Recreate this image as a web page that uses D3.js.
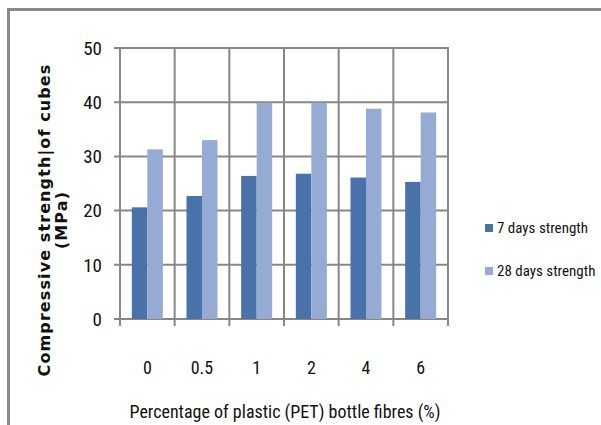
<!DOCTYPE html>
<html><head><meta charset="utf-8">
<script src="https://cdn.jsdelivr.net/npm/d3@7"></script>
<style>html,body{margin:0;padding:0;background:#fff;}svg{display:block;}</style>
</head><body>
<svg id="c" width="601" height="425"></svg>
<script>
const categories = ["0", "0.5", "1", "2", "4", "6"];
const seriesNames = ["7 days strength", "28 days strength"];
const strength7 = [20.6, 22.7, 26.4, 26.8, 26.1, 25.3];
const strength28 = [31.3, 33.0, 39.9, 39.9, 38.8, 38.1];
const yTicks = [0, 10, 20, 30, 40, 50];
const colors = ["#4872A8", "#95ABD3"];

const svg = d3.select("#c");
const L = 120, R = 448, T = 48, B = 319;
const x = d3.scaleBand().domain(categories).range([L, R]).padding(0);
const y = d3.scaleLinear().domain([0, 50]).range([B, T]);
const bw = x.bandwidth();
const xs = d3.scaleBand().domain(seriesNames).range([bw/2 - 15.5, bw/2 + 15.5]).padding(0);
const grid = "#878787";
const narrow = "'Liberation Sans Narrow', 'Roboto Condensed', Lato, sans-serif";

// outer frame
svg.append("line").attr("x1", 8).attr("x2", 601).attr("y1", 9.5).attr("y2", 9.5).attr("stroke", "#8a8a8a").attr("stroke-width", 3);
svg.append("line").attr("x1", 8.5).attr("x2", 8.5).attr("y1", 8).attr("y2", 425).attr("stroke", "#8a8a8a").attr("stroke-width", 3);

// horizontal gridlines
svg.append("g").selectAll("line").data(yTicks).join("line")
  .attr("x1", L - 6).attr("x2", R).attr("y1", d => y(d)).attr("y2", d => y(d))
  .attr("stroke", grid).attr("stroke-width", 2);
// vertical gridlines
const bounds = categories.map(c => x(c)).concat([R]);
svg.append("g").selectAll("line").data(bounds).join("line")
  .attr("x1", d => d).attr("x2", d => d).attr("y1", T - 1).attr("y2", B + 7)
  .attr("stroke", grid).attr("stroke-width", 2);

// bars
const data = categories.map((c, i) => ({c, vals: [strength7[i], strength28[i]]}));
const g = svg.append("g").selectAll("g").data(data).join("g").attr("transform", d => `translate(${x(d.c)},0)`);
g.selectAll("rect").data(d => d.vals.map((v, k) => ({v, k}))).join("rect")
  .attr("x", d => xs(seriesNames[d.k])).attr("width", xs.bandwidth())
  .attr("y", d => y(d.v)).attr("height", d => B - y(d.v))
  .attr("fill", d => colors[d.k]);

// y tick labels
svg.append("g").selectAll("text").data(yTicks).join("text")
  .attr("x", 102).attr("y", d => y(d)).attr("dy", "0.36em")
  .attr("text-anchor", "end").attr("font-family", narrow).attr("font-size", 19)
  .attr("fill", "#111").text(d => d);
// x tick labels
svg.append("g").selectAll("text").data(categories).join("text")
  .attr("x", d => x(d) + bw/2).attr("y", 374)
  .attr("text-anchor", "middle").attr("font-family", narrow).attr("font-size", 18)
  .attr("fill", "#111").text(d => d);
// x title
svg.append("text").attr("x", 285).attr("y", 418).attr("text-anchor", "middle")
  .attr("font-family", narrow).attr("font-size", 18).attr("fill", "#111")
  .text("Percentage of plastic (PET)  bottle fibres (%)");
// y title
const yt = svg.append("text").attr("transform", "translate(50,220) rotate(-90)")
  .attr("text-anchor", "middle").attr("font-family", "DejaVu Sans, sans-serif")
  .attr("font-weight", "bold").attr("font-size", 16).attr("letter-spacing", 1.1).attr("fill", "#111");
yt.append("tspan").attr("x", 0).attr("y", 0).text("Compressive strength|of cubes");
yt.append("tspan").attr("x", 0).attr("y", 17).text("(MPa)");

// legend
const lg = svg.append("g").selectAll("g").data(seriesNames).join("g")
  .attr("transform", (d, i) => `translate(485,${228 + i * 43})`);
lg.append("rect").attr("x", 0).attr("y", -4).attr("width", 8).attr("height", 8).attr("fill", (d, i) => colors[i]);
lg.append("text").attr("x", 12).attr("y", 0).attr("dy", "0.36em")
  .attr("font-family", narrow).attr("font-size", 15).attr("fill", "#111").text(d => d);
</script>
</body></html>
